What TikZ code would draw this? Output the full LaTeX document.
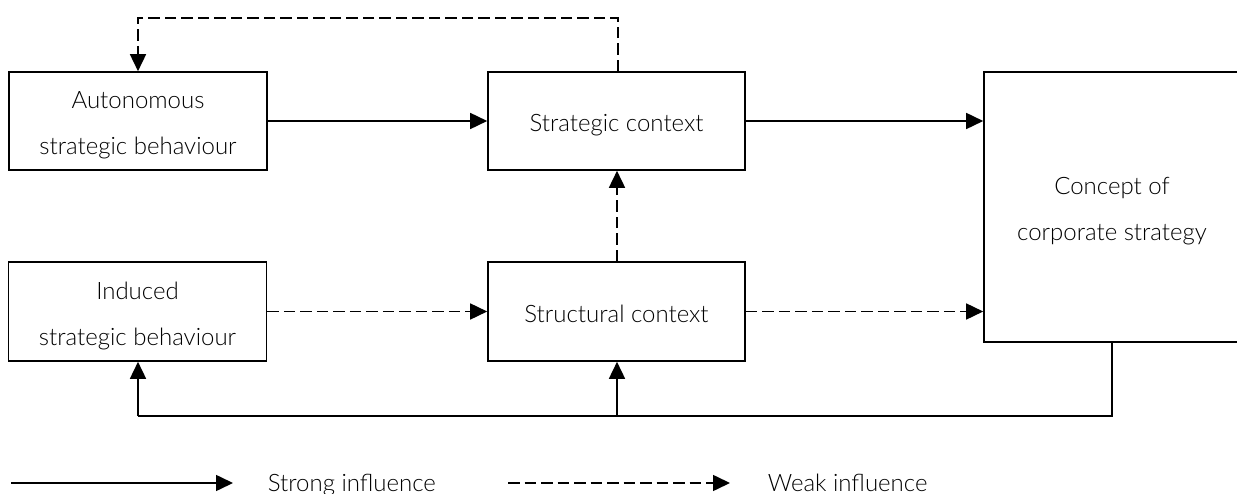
\documentclass[tikz,border=0pt]{standalone}
\usepackage{fontspec}
\setmainfont{Lato Light}
\usetikzlibrary{arrows.meta}
% fixed line height and depth so that every box sets its text at the same place
\newcommand\boxtopstrut{\rule{0pt}{27pt}}
\newcommand\boxbotstrut{\rule[-5pt]{0pt}{5pt}}
\begin{document}
\begin{tikzpicture}[x=1pt,y=-1pt,
  line width=1.6pt,
  box/.style={draw, rectangle, align=center, inner sep=0pt,
    font=\fontsize{24}{46}\selectfont},
  strong/.style={-{Triangle[length=17pt,width=16pt]}},
  weak/.style={-{Triangle[length=17pt,width=16pt]}, dash pattern=on 11.5pt off 5pt},
  legendtext/.style={anchor=base west, inner sep=0pt, font=\fontsize{24}{28}\selectfont}]
  \useasboundingbox (0,0) rectangle (1237,494);

  % boxes
  \node[box, minimum width=258pt, minimum height=98pt] (auto) at (138,121)
    {\boxtopstrut Autonomous\\strategic behaviour\boxbotstrut};
  \node[box, minimum width=257pt, minimum height=98pt] (strat) at (616.5,121)
    {\boxtopstrut Strategic context\boxbotstrut};
  \node[box, minimum width=258pt, minimum height=99pt] (ind) at (137.5,311.5)
    {\boxtopstrut Induced\\strategic behaviour\boxbotstrut};
  \node[box, minimum width=257pt, minimum height=99pt] (struct) at (616.5,311.5)
    {\boxtopstrut Structural context\boxbotstrut};
  \node[box, minimum width=256pt, minimum height=270pt] (concept) at (1112,207)
    {\boxtopstrut Concept of\\corporate strategy\boxbotstrut};

  % corner points of the feedback loops
  \coordinate (topR) at (618,18);
  \coordinate (topL) at (138,18);
  \coordinate (botR) at (1112,416);
  \coordinate (botM) at (617,416);
  \coordinate (botL) at (138,416);

  % connectors
  \draw[strong] (auto.east) -- (strat.west);
  \draw[strong] (strat.east) -- (strat.east -| concept.west);
  \draw[weak] (ind.east) -- (struct.west);
  \draw[weak] (struct.east) -- (struct.east -| concept.west);
  \draw[weak] (struct.north -| botM) -- (strat.south -| botM);
  \draw[weak] (strat.north -| topR) -- (topR) -- (topL) -- (auto.north -| topL);
  \draw (concept.south -| botR) -- (botR) -- (botL);
  \draw[strong] (botL) -- (ind.south -| botL);
  \draw[strong] (botM) -- (struct.south -| botM);

  % legend
  \coordinate (s0) at (11,483);
  \coordinate (s1) at (233,483);
  \coordinate (w0) at (508,483);
  \coordinate (w1) at (730,483);
  \draw[strong] (s0) -- (s1);
  \draw[weak] (w0) -- (w1);
  \node[legendtext] (strongtxt) at (267,491) {Strong influence};
  \node[legendtext] (weaktxt) at (767,491) {Weak influence};
\end{tikzpicture}
\end{document}
